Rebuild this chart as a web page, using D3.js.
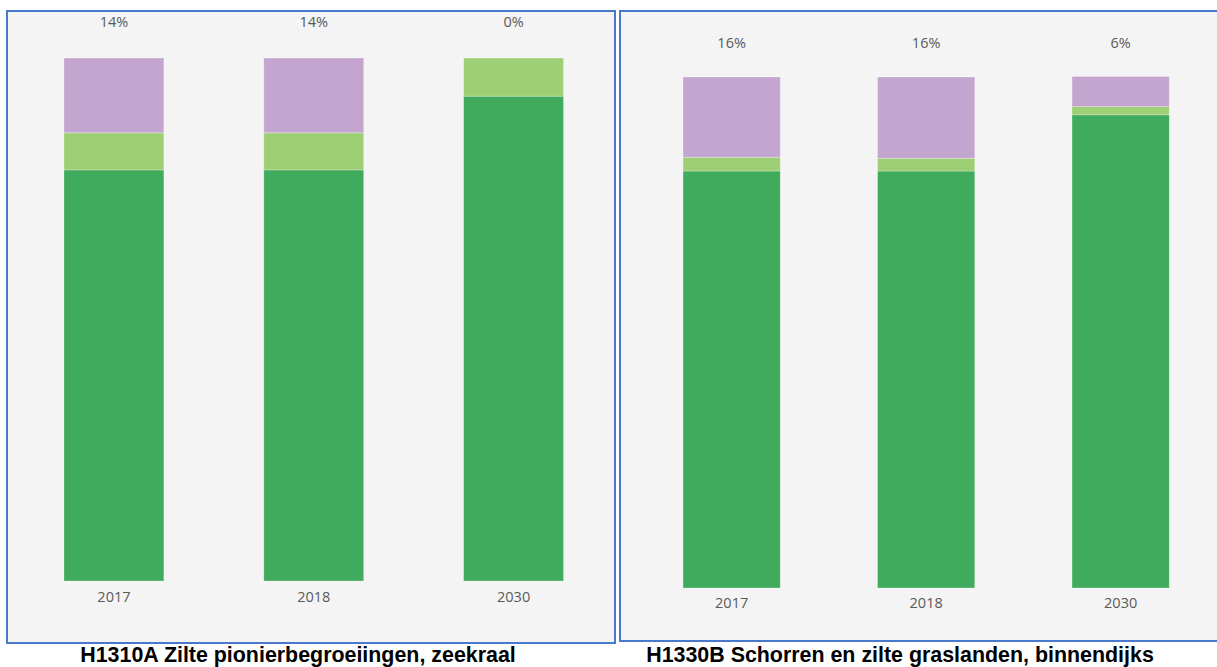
<!DOCTYPE html>
<html>
<head>
<meta charset="utf-8">
<script src="https://cdn.jsdelivr.net/npm/d3@7"></script>
<style>
  html, body { margin: 0; padding: 0; background: #ffffff; }
  svg { display: block; }
</style>
</head>
<body>
<svg id="chart" width="1217" height="667"></svg>
<script>
// ---- Data ----
const years = ["2017", "2018", "2030"];
const seriesKeys = ["goed", "matig", "slecht"];
const seriesColors = ["#41ab5d", "#9fcf74", "#c3a5cf"];

// Panel 1: H1310A
const title1 = "H1310A Zilte pionierbegroeiingen, zeekraal";
const goed1 = [78.6, 78.6, 92.7];
const matig1 = [7.1, 7.1, 7.3];
const slecht1 = [14.3, 14.3, 0];
const topLabels1 = ["14%", "14%", "0%"];

// Panel 2: H1330B
const title2 = "H1330B Schorren en zilte graslanden, binnendijks";
const goed2 = [81.6, 81.6, 92.6];
const matig2 = [2.7, 2.5, 1.6];
const slecht2 = [15.7, 15.9, 5.9];
const topLabels2 = ["16%", "16%", "6%"];

// ---- Drawing ----
const svg = d3.select("#chart");

function buildRows(goed, matig, slecht) {
  return years.map((y, i) => ({ year: y, goed: goed[i], matig: matig[i], slecht: slecht[i] }));
}

function drawPanel(cfg) {
  const g = svg.append("g");
  g.append("rect")
    .attr("x", cfg.box[0]).attr("y", cfg.box[1])
    .attr("width", cfg.box[2]).attr("height", cfg.box[3])
    .attr("fill", "#f4f4f4")
    .attr("stroke", "#4a78cc")
    .attr("stroke-width", 2);

  const x = d3.scaleBand().domain(years).range(cfg.xRange)
    .paddingInner(0.5).paddingOuter(0.25);
  const y = d3.scaleLinear().domain([0, 100]).range(cfg.yRange);

  const rows = buildRows(cfg.goed, cfg.matig, cfg.slecht);
  const stacked = d3.stack().keys(seriesKeys)(rows);

  g.selectAll("g.layer").data(stacked).join("g")
    .attr("class", "layer")
    .attr("fill", (d, i) => seriesColors[i])
    .selectAll("rect").data(d => d).join("rect")
    .attr("x", d => x(d.data.year))
    .attr("width", x.bandwidth())
    .attr("y", d => y(d[1]))
    .attr("height", d => Math.max(0, y(d[0]) - y(d[1])))
    .attr("stroke", "rgba(255,255,255,0.35)")
    .attr("stroke-width", 0.8);

  g.selectAll("text.top").data(years).join("text")
    .attr("class", "top")
    .attr("x", d => x(d) + x.bandwidth() / 2)
    .attr("y", cfg.topLabelY)
    .attr("text-anchor", "middle")
    .attr("dominant-baseline", "middle")
    .attr("font-family", "'Open Sans', 'Noto Sans', sans-serif")
    .attr("font-size", 14.5)
    .attr("fill", "#5a5a5a")
    .text((d, i) => cfg.topLabels[i]);

  const axis = d3.axisBottom(x).tickSize(0).tickPadding(0);
  const ax = g.append("g")
    .attr("transform", `translate(0,${cfg.yRange[0]})`)
    .call(axis);
  ax.select(".domain").remove();
  ax.selectAll("text")
    .attr("y", cfg.bottomLabelOffset)
    .attr("dy", null)
    .attr("dominant-baseline", "middle")
    .attr("font-family", "'Open Sans', 'Noto Sans', sans-serif")
    .attr("font-size", 14.5)
    .attr("fill", "#5a5a5a");

  svg.append("text")
    .attr("x", cfg.titleX)
    .attr("y", 661.5)
    .attr("text-anchor", "middle")
    .attr("font-family", "'Liberation Sans', Arial, sans-serif")
    .attr("font-weight", "bold")
    .attr("font-size", 21.4)
    .attr("fill", "#000")
    .text(cfg.title);
}

drawPanel({
  box: [7, 11, 608, 632],
  xRange: [14, 613.5],
  yRange: [581, 58],
  goed: goed1, matig: matig1, slecht: slecht1,
  topLabels: topLabels1,
  topLabelY: 23.5,
  bottomLabelOffset: 17,
  title: title1,
  titleX: 298
});

drawPanel({
  box: [620, 11, 610, 630],
  xRange: [634.4, 1217.9],
  yRange: [588, 77],
  goed: goed2, matig: matig2, slecht: slecht2,
  topLabels: topLabels2,
  topLabelY: 44.5,
  bottomLabelOffset: 16,
  title: title2,
  titleX: 900
});
</script>
</body>
</html>
